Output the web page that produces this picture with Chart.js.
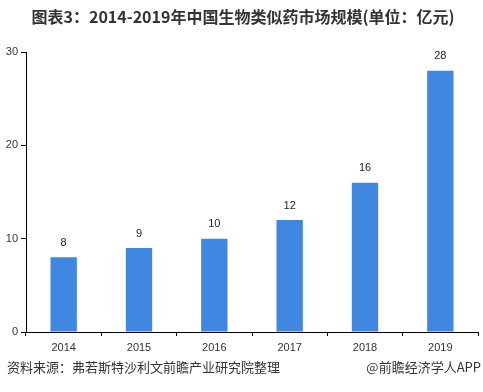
<!DOCTYPE html>
<html>
<head>
<meta charset="utf-8">
<script src="https://cdn.jsdelivr.net/npm/chart.js"></script>
<style>
  html, body { margin: 0; padding: 0; background: #fff; }
  #wrap { position: relative; width: 483px; height: 392px; }
</style>
</head>
<body>
<div id="wrap"><canvas id="marketChart" width="483" height="392"></canvas></div>
<script>
// 数据
const years = ['2014', '2015', '2016', '2017', '2018', '2019'];
const marketSize = [8, 9, 10, 12, 16, 28];
const yTicks = [0, 10, 20, 30];

const titleText = '图表3：2014-2019年中国生物类似药市场规模(单位：亿元)';
const sourceText = '资料来源：弗若斯特沙利文前瞻产业研究院整理';
const brandText = '@前瞻经济学人APP';

const cjkFont = '"Noto Sans CJK SC", "Liberation Sans", sans-serif';
const numFont = '"Liberation Sans", Arial, sans-serif';

// 标题、来源和数值标签
const decorPlugin = {
    id: 'decor',
    afterDatasetsDraw(chart) {
        const ctx = chart.ctx;
        ctx.save();
        // 数值标签
        const meta = chart.getDatasetMeta(0);
        ctx.fillStyle = '#222';
        ctx.font = '11px ' + numFont;
        ctx.textAlign = 'center';
        ctx.textBaseline = 'bottom';
        meta.data.forEach(function(bar, i) {
            ctx.fillText(String(marketSize[i]), bar.x, bar.y - 9);
        });
        // 标题
        ctx.fillStyle = '#333';
        ctx.font = 'bold 16px ' + cjkFont;
        ctx.textAlign = 'center';
        ctx.textBaseline = 'middle';
        ctx.fillText(titleText, 243, 17);
        // 来源
        ctx.font = '13px ' + cjkFont;
        ctx.textAlign = 'left';
        ctx.fillText(sourceText, 7, 367);
        ctx.textAlign = 'right';
        ctx.fillText(brandText, 481, 367);
        ctx.restore();
    }
};

new Chart(document.getElementById('marketChart'), {
    type: 'bar',
    data: {
        labels: years,
        datasets: [{
            data: marketSize,
            backgroundColor: '#4087e2',
            borderWidth: 0,
            categoryPercentage: 1,
            barPercentage: 0.35
        }]
    },
    options: {
        responsive: false,
        animation: false,
        devicePixelRatio: 1,
        layout: { padding: { top: 52, right: 5, bottom: 0, left: 0 } },
        plugins: {
            legend: { display: false },
            tooltip: { enabled: false }
        },
        scales: {
            x: {
                afterFit: function(scale) { scale.height = 60; },
                border: { display: true, color: '#000', width: 1 },
                grid: {
                    display: true,
                    drawOnChartArea: false,
                    drawTicks: true,
                    tickLength: 4,
                    color: '#000',
                    offset: true
                },
                ticks: {
                    color: '#333',
                    font: { size: 11, family: numFont },
                    padding: 5
                }
            },
            y: {
                min: 0,
                max: 30,
                afterFit: function(scale) { scale.width = 26; },
                afterBuildTicks: function(scale) {
                    scale.ticks = yTicks.map(function(v) { return { value: v }; });
                },
                border: { display: true, color: '#000', width: 1 },
                grid: {
                    display: true,
                    drawOnChartArea: false,
                    drawTicks: true,
                    tickLength: 5,
                    color: '#000'
                },
                ticks: {
                    color: '#333',
                    font: { size: 11, family: numFont },
                    padding: 3
                }
            }
        }
    },
    plugins: [decorPlugin]
});
</script>
</body>
</html>
